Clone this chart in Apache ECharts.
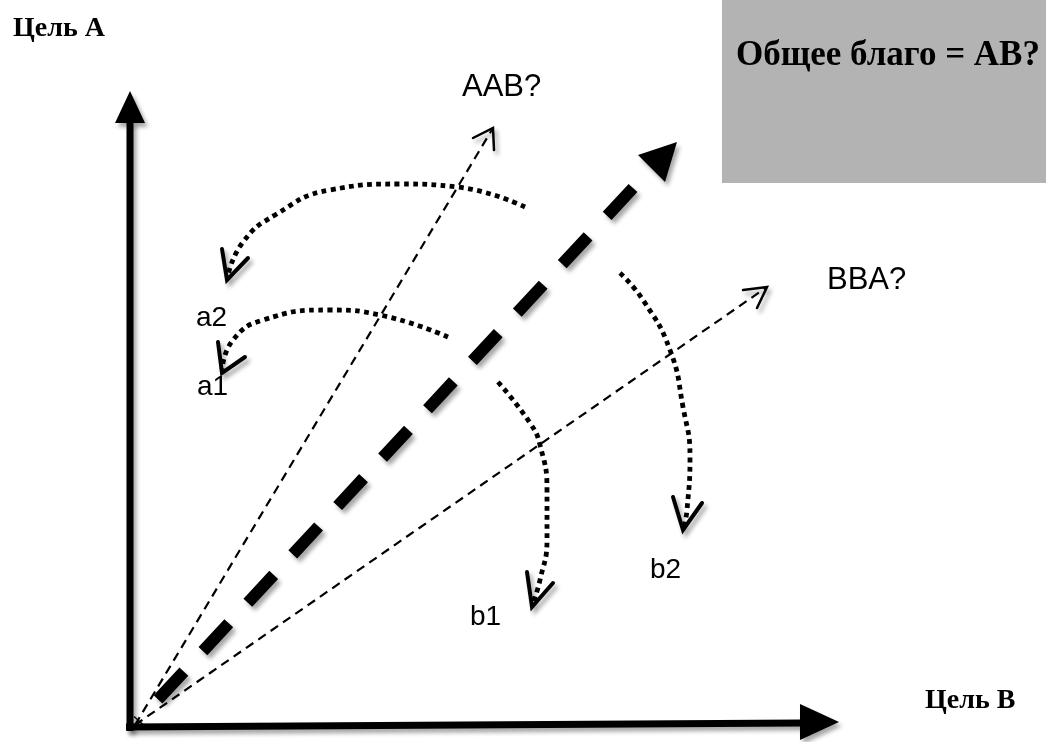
<!DOCTYPE html>
<html><head><meta charset="utf-8">
<script src="https://cdn.jsdelivr.net/npm/echarts@6/dist/echarts.min.js"></script>
<style>html,body{margin:0;padding:0;background:#fff}#c{width:1046px;height:742px}</style>
</head><body><div id="c"></div>
<script>
// Diagram coordinates: origin at the corner of the two goal axes (x = Цель В, y = Цель А)
const axisA = [[0,-4],[0,606]];
const axisB = [[-4,0],[672,4]];
const axisHeads = [[0,636,-15,604,15,604],[709,5,670,23,670,-13]];
const commonGood = [[503,539],[8,6]];
const commonGoodHead = [[547,585,508,572,535,545]];
const rayAAB = [[5,2],[363,599]];
const rayAABHead = [[343,589],[363,599],[364,577]];
const rayBBA = [[5,2],[637,440]];
const rayBBAHead = [[613,437],[637,440],[627,419]];
const arcA2 = [[395,520],[327,540],[270,543],[200,537],[145,512],[113,485],[98,452]];
const arcA2Head = [[92,478],[97,447],[118,469]];
const arcA1 = [[318,390],[250,412],[200,417],[133,407],[103,387],[92,358]];
const arcA1Head = [[88,385],[92,354],[115,370]];
const arcB1 = [[368,345],[400,304],[410,282],[417,237],[417,187],[410,147],[403,124]];
const arcB1Head = [[397,155],[402,120],[423,144]];
const arcB2 = [[490,454],[513,427],[540,377],[553,320],[560,270],[557,217],[554,200]];
const arcB2Head = [[543,230],[553,197],[572,224]];
const box = [[592,544,916,727]];
const rayLabels = [{name:'AAB?', value:[332,640]},{name:'BBA?', value:[697,447]}];
const optionLabels = [{name:'a2', value:[66,409]},{name:'a1', value:[67,340]},{name:'b1', value:[340,110]},{name:'b2', value:[520,157]}];
const goalLabels = [{name:'Цель А', value:[-117,698]},{name:'Цель В', value:[795,26]}];
const titleLabels = [{name:'Общее благо = АВ?', value:[606,671]}];

const shadow = {shadowColor:'rgba(0,0,0,0.35)', shadowBlur:4, shadowOffsetX:3, shadowOffsetY:4};
function line(data, style, smooth){
  return {type:'line', data:data, symbol:'none', silent:true, smooth:smooth||false, clip:false,
    lineStyle:Object.assign({color:'#000'}, style), z:3};
}
function tri(data){
  return {type:'custom', silent:true, clip:false, z:4, data:data,
    renderItem:function(p, api){
      const pts=[0,1,2].map(i=>api.coord([api.value(i*2), api.value(i*2+1)]));
      return {type:'polygon', shape:{points:pts}, style:Object.assign({fill:'#000'}, shadow)};
    }};
}
function labels(data, font){
  return {type:'scatter', data:data, symbolSize:0, silent:true, z:6,
    itemStyle:{opacity:1, color:'#000'},
    label:Object.assign({show:true, position:'right', distance:0, color:'#000', opacity:1, formatter:'{b}'}, font)};
}
const dotted = {width:4.8, type:[4.8,4.4], cap:'butt'};
const head = Object.assign({width:4, cap:'round', join:'miter'}, shadow);
const thinHead = Object.assign({width:2.5, cap:'round', join:'miter'}, shadow);

const chart = echarts.init(document.getElementById('c'), null, {renderer:'canvas'});
chart.setOption({
  animation:false,
  backgroundColor:'#fff',
  grid:{left:0, right:0, top:0, bottom:0},
  xAxis:{type:'value', min:-130, max:916, show:false},
  yAxis:{type:'value', min:-15, max:727, show:false},
  series:[
    {type:'custom', silent:true, clip:false, z:1, data:box,
      renderItem:function(p, api){
        const a=api.coord([api.value(0), api.value(3)]), b=api.coord([api.value(2), api.value(1)]);
        return {type:'rect', shape:{x:a[0], y:a[1], width:b[0]-a[0], height:b[1]-a[1]}, style:{fill:'#b3b3b3'}};
      }},
    line(axisA, Object.assign({width:7, cap:'butt'}, shadow)),
    line(axisB, Object.assign({width:7, cap:'butt'}, shadow)),
    tri(axisHeads),
    line(commonGood, Object.assign({width:12, type:[38,28], cap:'butt'}, shadow)),
    tri(commonGoodHead),
    line(rayAAB, {width:2.2, type:[9,6]}),
    line(rayAABHead, thinHead),
    line(rayBBA, {width:2.2, type:[9,6]}),
    line(rayBBAHead, thinHead),
    line(arcA2, dotted, true),
    line(arcA2Head, head),
    line(arcA1, dotted, true),
    line(arcA1Head, head),
    line(arcB1, dotted, true),
    line(arcB1Head, head),
    line(arcB2, dotted, true),
    line(arcB2Head, head),
    labels(rayLabels, {fontFamily:'Liberation Sans', fontSize:31}),
    labels(optionLabels, {fontFamily:'Liberation Sans', fontSize:28}),
    labels(goalLabels, {fontFamily:'Liberation Serif', fontWeight:'bold', fontSize:28}),
    labels(titleLabels, {fontFamily:'Liberation Serif', fontWeight:'bold', fontSize:35})
  ]
});
</script></body></html>
